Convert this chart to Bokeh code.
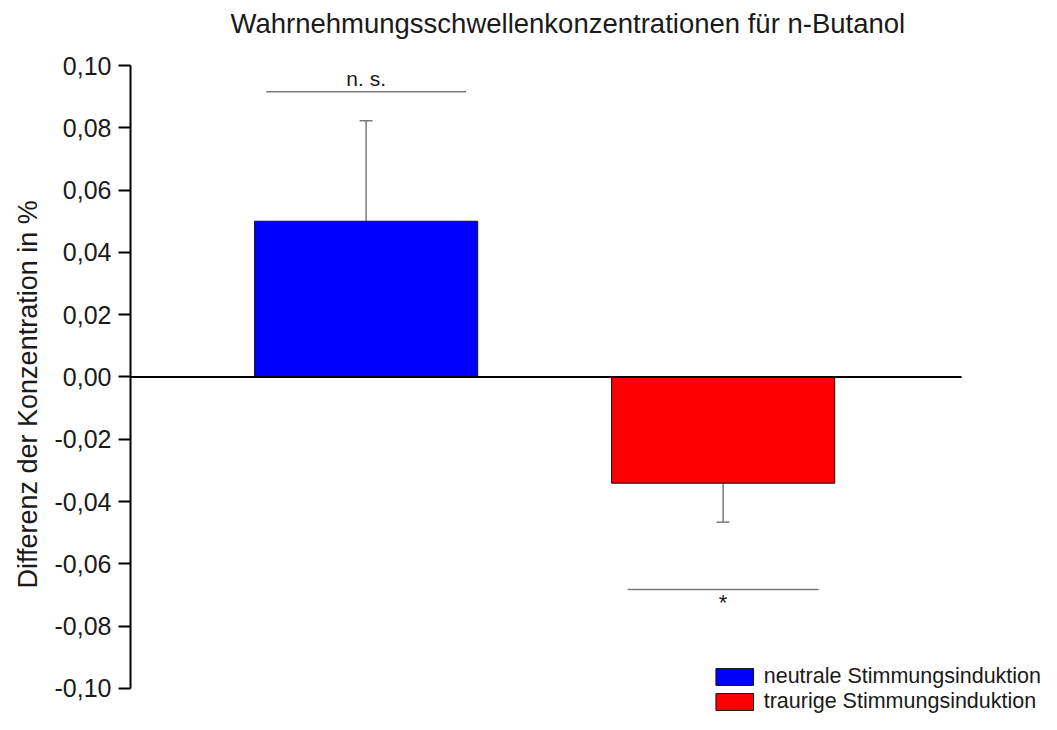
from bokeh.plotting import figure
from bokeh.models import (ColumnDataSource, Whisker, TeeHead, FixedTicker,
                          CustomJSTickFormatter, Range1d, Title)
from bokeh.core.properties import value
from bokeh.embed import file_html
from bokeh.resources import INLINE

# ---------------- data ----------------
categories = ["neutrale Stimmungsinduktion", "traurige Stimmungsinduktion"]
means = [0.050, -0.0341]
sem = [0.0323, 0.0125]
bar_colors = ["#0000FF", "#FF0000"]
sig_labels = ["n. s.", "*"]
sig_levels = [0.0916, -0.0682]
y_ticks = [-0.10, -0.08, -0.06, -0.04, -0.02, 0.00, 0.02, 0.04, 0.06, 0.08, 0.10]
title_text = "Wahrnehmungsschwellenkonzentrationen für n-Butanol"
y_label = "Differenz der Konzentration in %"

# ---------------- style ----------------
FONT = "Liberation Sans"
TXT = "#1a1a1a"
GRAY = "#7a7a7a"
xpos = [1, 2]
bar_width = 0.625
sig_halfwidth = [0.28, 0.2675]

W, H = 1041, 714
LEFT = 130
FRAME_TOP = 44.0
FRAME_BOTTOM = 714.0
px_per_unit = 3110.0
y_end = 0.10 + (66 - FRAME_TOP) / px_per_unit
y_start = -0.10 - (FRAME_BOTTOM - 688) / px_per_unit
x_start = 0.34
x_end = x_start + (W - LEFT) / 357.0

p = figure(width=W, height=H, output_backend="svg", toolbar_location=None,
           x_range=Range1d(x_start, x_end), y_range=Range1d(y_start, y_end),
           x_axis_type=None, min_border_left=LEFT, min_border_right=0,
           min_border_bottom=0, min_border_top=0)
p.outline_line_color = None
p.grid.visible = False
p.background_fill_color = "white"
p.border_fill_color = "white"

p.title.text = title_text
p.title.text_font = FONT
p.title.text_font_size = "27.5px"
p.title.text_font_style = "normal"
p.title.text_color = TXT
p.title.align = "left"
p.title.offset = 100

src = ColumnDataSource(dict(x=xpos, top=means, color=bar_colors, label=categories))
p.vbar(x="x", top="top", bottom=0, width=bar_width, fill_color="color",
       line_color="#111111", line_width=1, legend_field="label", source=src)

# zero line
p.segment(x0=[x_start], y0=[0], x1=[2.668], y1=[0], line_color="black", line_width=2)

# error bars
for i in range(len(means)):
    m, s = means[i], sem[i]
    if m >= 0:
        ws = ColumnDataSource(dict(base=[xpos[i]], lower=[m], upper=[m + s]))
        w = Whisker(base="base", lower="lower", upper="upper", source=ws,
                    line_color=GRAY, line_width=1.5, lower_head=None,
                    upper_head=TeeHead(size=13, line_color=GRAY, line_width=1.5))
    else:
        ws = ColumnDataSource(dict(base=[xpos[i]], lower=[m - s], upper=[m]))
        w = Whisker(base="base", lower="lower", upper="upper", source=ws,
                    line_color=GRAY, line_width=1.5, upper_head=None,
                    lower_head=TeeHead(size=13, line_color=GRAY, line_width=1.5))
    p.add_layout(w)

# significance markers
sig_src = ColumnDataSource(dict(
    x0=[xpos[i] - sig_halfwidth[i] for i in range(2)],
    x1=[xpos[i] + sig_halfwidth[i] for i in range(2)],
    y=sig_levels, x=xpos, label=sig_labels))
p.segment(x0="x0", y0="y", x1="x1", y1="y", line_color=GRAY, line_width=1.5, source=sig_src)
p.text(x=[xpos[0]], y=[sig_levels[0]], text=[sig_labels[0]], text_align="center",
       text_baseline="alphabetic", y_offset=-13, text_font=value(FONT),
       text_font_size="21px", text_color=TXT)
p.text(x=[xpos[1]], y=[sig_levels[1]], text=[sig_labels[1]], text_align="center",
       text_baseline="alphabetic", y_offset=13, text_font=value(FONT),
       text_font_size="22px", text_color=TXT)

# y axis
ax = p.yaxis[0]
ax.ticker = FixedTicker(ticks=y_ticks)
ax.formatter = CustomJSTickFormatter(code="""
    if (Math.abs(tick) < 1e-9) { return '0,00'; }
    return tick.toFixed(2).replace('.', ',');
""")
ax.bounds = (-0.10, 0.10)
ax.axis_line_width = 2
ax.axis_line_color = "black"
ax.major_tick_line_width = 2
ax.major_tick_line_color = "black"
ax.major_tick_out = 12
ax.major_tick_in = 0
ax.minor_tick_out = 0
ax.minor_tick_in = 0
ax.major_label_text_font = FONT
ax.major_label_text_font_size = "25px"
ax.major_label_text_color = TXT
ax.major_label_standoff = 7

# y axis label as a vertical side title (positioned along the axis)
ylab = Title(text=y_label, text_font=FONT, text_font_size="27px",
             text_font_style="normal", text_color=TXT, align="left",
             offset=126, standoff=18)
p.add_layout(ylab, "left")

# legend
lg = p.legend[0]
lg.location = "bottom_right"
lg.glyph_width = 47
lg.glyph_height = 21
lg.spacing = 0
lg.padding = 0
lg.margin = 0
lg.label_standoff = 6
lg.label_text_font = FONT
lg.label_text_font_size = "21.5px"
lg.label_text_color = TXT
lg.label_height = 21
lg.border_line_color = None
lg.background_fill_alpha = 0

open("out.html", "w").write(file_html(p, INLINE))
